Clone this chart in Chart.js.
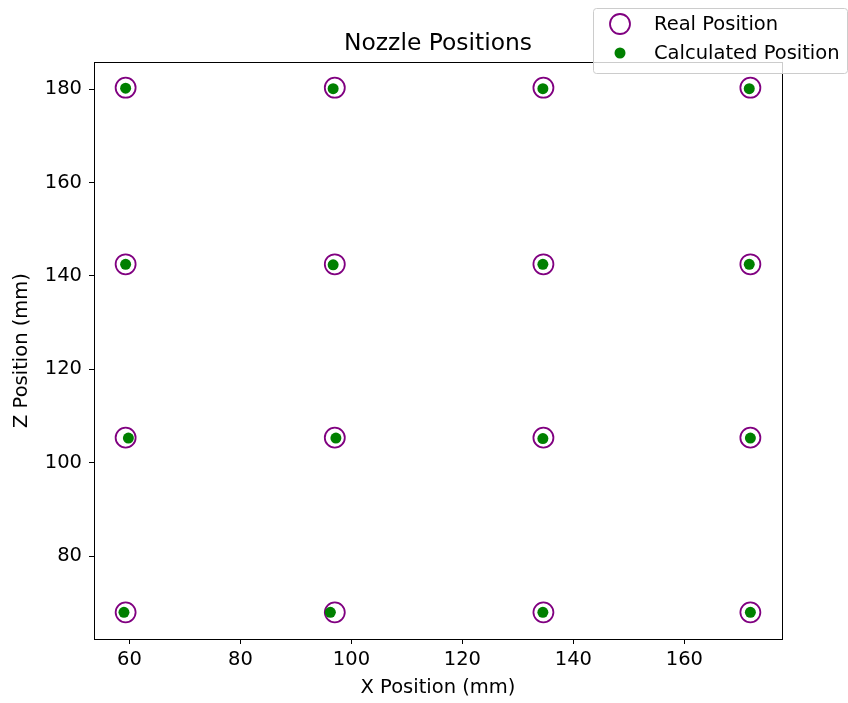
<!DOCTYPE html>
<html>
<head>
<meta charset="utf-8">
<script src="https://cdn.jsdelivr.net/npm/chart.js@4/dist/chart.umd.min.js"></script>
<style>
  html, body { margin: 0; padding: 0; background: #fff; }
  #wrap { width: 848px; height: 703px; }
</style>
</head>
<body>
<div id="wrap"><canvas id="nozzleChart"></canvas></div>
<script>
// real nozzle positions (mm)
const realX = [59.3, 97.0, 134.6, 171.9, 59.3, 97.0, 134.6, 171.9, 59.3, 97.0, 134.6, 171.9, 59.3, 97.0, 134.6, 171.9];
const realZ = [180.3, 180.3, 180.3, 180.3, 142.5, 142.5, 142.5, 142.5, 105.4, 105.4, 105.4, 105.4, 68.0, 68.0, 68.0, 68.0];
// calculated nozzle positions (mm)
const calcX = [59.3, 96.7, 134.5, 171.7, 59.3, 96.7, 134.5, 171.7, 59.8, 97.2, 134.5, 171.9, 59.0, 96.2, 134.5, 171.9];
const calcZ = [180.2, 180.1, 180.1, 180.1, 142.5, 142.4, 142.5, 142.5, 105.3, 105.3, 105.2, 105.3, 68.0, 68.0, 68.0, 68.0];
const xTicks = [60, 80, 100, 120, 140, 160];
const zTicks = [80, 100, 120, 140, 160, 180];

const FONT = "'DejaVu Sans', sans-serif";
const LABEL_SIZE = 19.5;
const TITLE_SIZE = 23.4;

function toPoints(xs, zs) {
  return xs.map((x, i) => ({ x: x, y: zs[i] }));
}

// frame, title and legend like matplotlib
const framePlugin = {
  id: "frame",
  afterDraw(chart) {
    const ctx = chart.ctx;
    const a = chart.chartArea;
    ctx.save();
    ctx.strokeStyle = "#000";
    ctx.lineWidth = 1;
    ctx.strokeRect(a.left + 0.5, a.top + 0.5, a.right - a.left, a.bottom - a.top);

    //title
    ctx.fillStyle = "#000";
    ctx.font = TITLE_SIZE + "px " + FONT;
    ctx.textAlign = "center";
    ctx.textBaseline = "alphabetic";
    ctx.fillText("Nozzle Positions", (a.left + a.right) / 2, a.top - 12);

    //legend
    const ds = chart.data.datasets;
    const bx = chart.width - 255, by = 8, bw = 254, bh = 65;
    ctx.beginPath();
    ctx.roundRect(bx + 0.5, by + 0.5, bw, bh, 3);
    ctx.fillStyle = "rgba(255,255,255,0.8)";
    ctx.fill();
    ctx.strokeStyle = "#cccccc";
    ctx.lineWidth = 1;
    ctx.stroke();
    ctx.font = LABEL_SIZE + "px " + FONT;
    ctx.textAlign = "left";
    ctx.textBaseline = "middle";
    const rows = [by + 16, by + 45];
    ds.forEach((d, i) => {
      const cy = rows[i];
      ctx.beginPath();
      ctx.arc(bx + 27, cy, d.pointRadius, 0, Math.PI * 2);
      if (d.pointBackgroundColor !== "rgba(0,0,0,0)") {
        ctx.fillStyle = d.pointBackgroundColor;
        ctx.fill();
      } else {
        ctx.strokeStyle = d.pointBorderColor;
        ctx.lineWidth = d.pointBorderWidth;
        ctx.stroke();
      }
      ctx.fillStyle = "#000";
      ctx.fillText(d.label, bx + 61, cy + 1);
    });
    ctx.restore();
  },
};

new Chart(document.getElementById("nozzleChart"), {
  type: "scatter",
  data: {
    datasets: [
      {
        label: "Real Position",
        data: toPoints(realX, realZ),
        pointRadius: 10,
        pointHoverRadius: 10,
        pointBackgroundColor: "rgba(0,0,0,0)",
        pointBorderColor: "#800080",
        pointBorderWidth: 1.8,
        order: 2,
      },
      {
        label: "Calculated Position",
        data: toPoints(calcX, calcZ),
        pointRadius: 5.5,
        pointHoverRadius: 5.5,
        pointBackgroundColor: "#008000",
        pointBorderColor: "#008000",
        pointBorderWidth: 0,
        order: 1,
      },
    ],
  },
  options: {
    responsive: true,
    maintainAspectRatio: false,
    animation: false,
    layout: {
      padding: { top: 62, right: 66, left: 0, bottom: 0 },
    },
    plugins: {
      legend: { display: false },
      title: { display: false },
      tooltip: { enabled: false },
    },
    scales: {
      x: {
        type: "linear",
        min: 53.6,
        max: 177.6,
        afterBuildTicks: (scale) => {
          scale.ticks = xTicks.map((v) => ({ value: v }));
        },
        afterFit: (scale) => {
          scale.height = 64;
        },
        ticks: {
          color: "#000",
          padding: 4,
          maxRotation: 0,
          font: { family: FONT, size: LABEL_SIZE },
        },
        grid: {
          drawOnChartArea: false,
          drawTicks: true,
          tickLength: 5,
          tickColor: "#000",
        },
        border: { display: true, color: "#000" },
        title: {
          display: true,
          text: "X Position (mm)",
          color: "#000",
          padding: { top: 4, bottom: 3 },
          font: { family: FONT, size: LABEL_SIZE },
        },
      },
      y: {
        type: "linear",
        min: 62.3,
        max: 185.8,
        afterBuildTicks: (scale) => {
          scale.ticks = zTicks.map((v) => ({ value: v }));
        },
        afterFit: (scale) => {
          scale.width = 94;
        },
        ticks: {
          color: "#000",
          padding: 7,
          font: { family: FONT, size: LABEL_SIZE },
        },
        grid: {
          drawOnChartArea: false,
          drawTicks: true,
          tickLength: 5,
          tickColor: "#000",
        },
        border: { display: true, color: "#000" },
        title: {
          display: true,
          text: "Z Position (mm)",
          color: "#000",
          padding: { top: 10, bottom: 4 },
          font: { family: FONT, size: LABEL_SIZE },
        },
      },
    },
  },
  plugins: [framePlugin],
});
</script>
</body>
</html>
